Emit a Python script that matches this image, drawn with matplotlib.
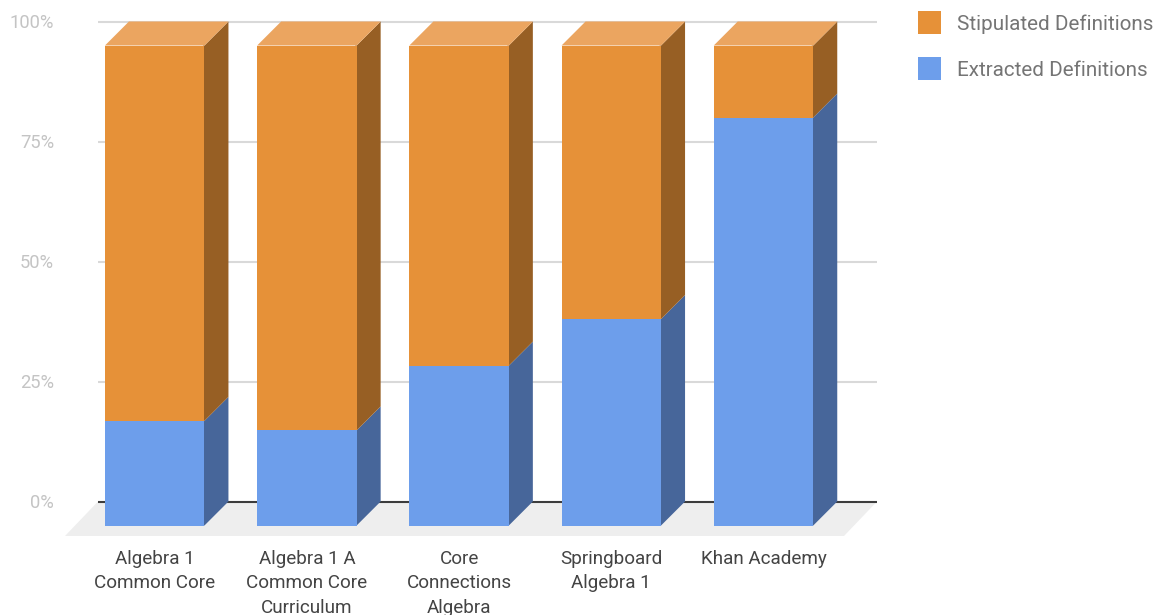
import matplotlib
matplotlib.use("Agg")
import matplotlib.pyplot as plt
from matplotlib.patches import Patch

plt.rcParams['font.family'] = ['Roboto', 'DejaVu Sans']

categories = ["Algebra 1\nCommon Core", "Algebra 1 A\nCommon Core\nCurriculum",
              "Core\nConnections\nAlgebra", "Springboard\nAlgebra 1", "Khan Academy"]
extracted = [21.8, 19.8, 33.3, 43, 85]
stipulated = [78.2, 80.2, 66.7, 57, 15]
percent_ticks = [0, 25, 50, 75, 100]
tick_labels = ["0%", "25%", "50%", "75%", "100%"]

W, H = 1162, 615
ORANGE, ORANGE_SIDE, ORANGE_TOP = "#E69138", "#975F24", "#EBA560"
BLUE, BLUE_SIDE = "#6D9EEB", "#47669A"

fig = plt.figure(figsize=(W / 100, H / 100), dpi=100, facecolor="white")

# Axes box spans the floor in front and the back wall behind the columns.
left, right, top, bottom = 65, 877, 21, 536
ax = fig.add_axes([left / W, 1 - bottom / H, (right - left) / W, (bottom - top) / H])

px_per_cat = 152.2
px_per_pct = 4.8
x0_px, y0_px = 154.7, 525.5
xmin, xmax = (left - x0_px) / px_per_cat, (right - x0_px) / px_per_cat
ymin, ymax = (y0_px - bottom) / px_per_pct, (y0_px - top) / px_per_pct
ax.set_xlim(xmin, xmax)
ax.set_ylim(ymin, ymax)

# Oblique depth of the columns, in data units.
dx = 24 / px_per_cat
dy = 24 / px_per_pct
bar_w = 99.5 / px_per_cat
wall_left = (98 - x0_px) / px_per_cat
seam = 1.5 / px_per_cat  # side faces tuck under the front faces

# Floor and back-wall rules.
ax.fill([wall_left, xmax, xmax - 33 / px_per_cat, xmin], [dy, dy, ymin, ymin],
        color="#EEEEEE", lw=0, zorder=1)
for t in percent_ticks[1:]:
    ax.plot([wall_left, xmax], [t + dy, t + dy], color="#D9D9D9", lw=1.5,
            zorder=2, clip_on=False, solid_capstyle="butt")
ax.plot([wall_left, xmax], [dy, dy], color="#3C3C3C", lw=1.5, zorder=2,
        solid_capstyle="butt")


def side_face(i, lo, hi, color):
    xr = i + bar_w / 2
    ax.fill([xr - seam, xr, xr + dx, xr + dx, xr, xr - seam],
            [lo, lo, lo + dy, hi + dy, hi, hi],
            color=color, lw=0, zorder=3, clip_on=False)


for i in range(len(categories)):
    e, s = extracted[i], stipulated[i]
    side_face(i, 0, e, BLUE_SIDE)
    side_face(i, e, e + s, ORANGE_SIDE)
    xl = i - bar_w / 2
    ax.fill([xl, xl + bar_w, xl + bar_w + dx, xl + dx],
            [e + s, e + s, e + s + dy, e + s + dy],
            color=ORANGE_TOP, lw=0, zorder=3, clip_on=False)

ax.bar(range(len(categories)), extracted, width=bar_w, color=BLUE, lw=0, zorder=4)
ax.bar(range(len(categories)), stipulated, width=bar_w, bottom=extracted,
       color=ORANGE, lw=0, zorder=4)

for s in ax.spines.values():
    s.set_visible(False)
ax.patch.set_visible(False)

ax.set_xticks(range(len(categories)))
ax.set_xticklabels(categories, fontsize=13.6, color="#444444", linespacing=1.45)
ax.tick_params(axis="x", length=0, pad=10.2)
ax.set_yticks([t + dy for t in percent_ticks])
ax.set_yticklabels(tick_labels, fontsize=13.2, color="#C4C4C4")
ax.tick_params(axis="y", length=0, pad=7.8)

handles = [Patch(facecolor=ORANGE, label="Stipulated Definitions"),
           Patch(facecolor=BLUE, label="Extracted Definitions")]
fig.legend(handles=handles, loc="upper left", bbox_to_anchor=(918 / W, 1 - 11.5 / H),
           bbox_transform=fig.transFigure, frameon=False, fontsize=14.9,
           labelcolor="#757575", handlelength=1.11, handleheight=1.33,
           handletextpad=0.77, labelspacing=1.11, borderpad=0, borderaxespad=0)

fig.savefig("out.png", dpi=100)
